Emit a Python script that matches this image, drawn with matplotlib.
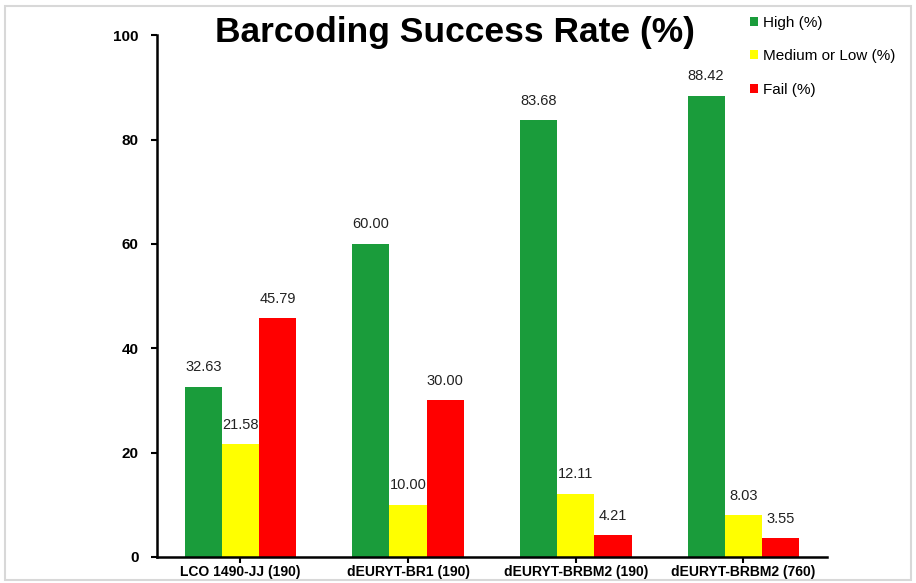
import numpy as np
import matplotlib.pyplot as plt
from matplotlib.patches import Rectangle

plt.rcParams['font.family'] = ['Liberation Sans', 'DejaVu Sans']

categories = ['LCO 1490-JJ (190)', 'dEURYT-BR1 (190)',
              'dEURYT-BRBM2 (190)', 'dEURYT-BRBM2 (760)']
high = [32.63, 60.00, 83.68, 88.42]
medium_low = [21.58, 10.00, 12.11, 8.03]
fail = [45.79, 30.00, 4.21, 3.55]
series_names = ['High (%)', 'Medium or Low (%)', 'Fail (%)']
colors = ['#1a9c3b', '#ffff00', '#ff0000']

fig = plt.figure(figsize=(9.16, 5.83), dpi=100)
ax = fig.add_axes([0.171, 0.0446, 0.732, 0.895])

x = np.arange(len(categories))
w = 0.222
for i, (vals, name, c) in enumerate(zip([high, medium_low, fail], series_names, colors)):
    pos = x + (i - 1) * w
    ax.bar(pos, vals, width=w, color=c, label=name)
    for p, v in zip(pos, vals):
        ax.text(p, v + 2.4, f'{v:.2f}', ha='center', va='bottom', fontsize=10.5, color='#222222')

ax.set_xlim(-0.5, len(categories) - 0.5)
ax.set_ylim(0, 100)
ax.set_yticks(range(0, 101, 20))
ax.set_xticks(x)
ax.set_xticklabels(categories, fontweight='bold', fontsize=10)
for lbl in ax.get_yticklabels():
    lbl.set_fontweight('bold')
    lbl.set_fontsize(11)
ax.spines['top'].set_visible(False)
ax.spines['right'].set_visible(False)
ax.spines['left'].set_linewidth(1.8)
ax.spines['bottom'].set_linewidth(1.8)
ax.tick_params(axis='y', direction='out', length=4, width=1.5, pad=9)
ax.tick_params(axis='x', direction='out', length=4, width=1.5, pad=2)

fig.text(0.497, 0.945, 'Barcoding Success Rate (%)', ha='center', va='center',
         fontsize=25.5, fontweight='bold')

ax.legend(loc='upper left', bbox_to_anchor=(0.874, 1.052), frameon=False, borderpad=0,
          fontsize=11, handlelength=0.5, handleheight=0.5, handletextpad=0.35,
          labelspacing=1.28)

fig.patches.append(Rectangle((0.006, 0.005), 0.988, 0.985, transform=fig.transFigure,
                             fill=False, edgecolor='#d8d8d8', linewidth=1.5))

fig.savefig('out.png', dpi=100)
